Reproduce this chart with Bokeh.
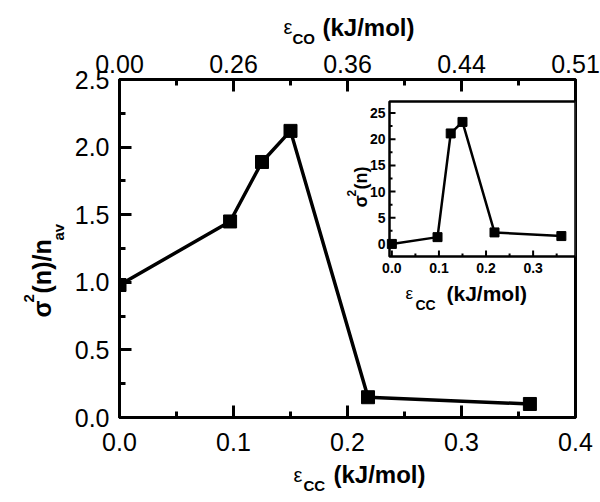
from bokeh.plotting import figure
from bokeh.models import Range1d, LinearAxis, FixedTicker, Label, Title
from bokeh.core.properties import value
from bokeh.embed import file_html
from bokeh.resources import INLINE

# ---------------- data ----------------
e_cc = [0.0, 0.097, 0.125, 0.150, 0.218, 0.360]          # eps_CC (kJ/mol)
ratio = [0.98, 1.45, 1.89, 2.12, 0.15, 0.10]             # sigma^2(n)/n_av
sigma2 = [0.0, 1.3, 21.1, 23.3, 2.2, 1.5]                # sigma^2(n) (inset)

x_ticks = [0.0, 0.1, 0.2, 0.3, 0.4]
x_minor = [0.05, 0.15, 0.25, 0.35]
x_tick_labels = ["0.0", "0.1", "0.2", "0.3", "0.4"]
top_tick_labels = ["0.00", "0.26", "0.36", "0.44", "0.51"]
y_ticks = [0.0, 0.5, 1.0, 1.5, 2.0, 2.5]
y_minor = [0.25, 0.75, 1.25, 1.75, 2.25]
y_tick_labels = ["0.0", "0.5", "1.0", "1.5", "2.0", "2.5"]

in_x_ticks = [0.0, 0.1, 0.2, 0.3]
in_x_minor = [0.05, 0.15, 0.25, 0.35]
in_x_labels = ["0.0", "0.1", "0.2", "0.3"]
in_y_ticks = [0, 5, 10, 15, 20, 25]
in_y_minor = [2.5, 7.5, 12.5, 17.5, 22.5]
in_y_labels = ["0", "5", "10", "15", "20", "25"]

FONT = "Liberation Sans"

# ---------------- layout (pixels) ----------------
W, H = 600, 500
BL, BR, BT, BB = 119, 25, 79, 83                 # main frame borders
FL, FR, FT, FB = BL, W - BR, BT, H - BB          # main frame box
IL, IR, IT, IB = 389, FR, 101, 256               # inset frame box
IX0, IX1 = -0.005, 0.39                          # inset data ranges
IY0, IY1 = -2.4, 27.2
sx = (IX1 - IX0) / (IR - IL)
sy = (IY1 - IY0) / (IB - IT)
ext_x = Range1d(IX0 - (IL - FL) * sx, IX1 + (FR - IR) * sx)
ext_y = Range1d(IY0 - (FB - IB) * sy, IY1 + (IT - FT) * sy)

TICK_FS = 25
K_ASC, K_DESC = 0.79, 0.19                       # text-box metrics (em)


def style_axis(ax, size, major, minor, lw, standoff):
    ax.axis_line_width = lw
    ax.axis_line_color = "black"
    ax.major_tick_in = major
    ax.major_tick_out = 0
    ax.minor_tick_in = minor
    ax.minor_tick_out = 0
    ax.major_tick_line_width = lw
    ax.minor_tick_line_width = lw
    ax.major_tick_line_color = "black"
    ax.minor_tick_line_color = "black"
    ax.major_label_text_font = FONT
    ax.major_label_text_font_size = f"{size}px"
    ax.major_label_text_color = "black"
    ax.major_label_standoff = standoff
    ax.axis_label = None


def side_titles(fig, side, start, pieces):
    """pieces: (text, font px, bold, D = distance frame -> outer edge of text, offset).
    Every Title row collapses to zero size, so each piece sits at start - standoff/2."""
    va = {"below": "bottom", "above": "top", "left": "top"}[side]
    for text, fs, bold, D, off in pieces:
        s = round(2 * (start - D))
        fig.add_layout(Title(text=text, align="left", offset=off, standoff=s,
                             vertical_align=va, text_font=FONT,
                             text_font_size=f"{fs}px",
                             text_font_style="bold" if bold else "normal",
                             text_color="black"), side)


def ilab(x, y, text, size, bold=True, angle=0):
    """text piece inside the frame (inset titles); px from frame bottom-left"""
    p.add_layout(Label(x=x, y=y, x_units="screen", y_units="screen", text=text,
                       text_font=FONT, text_font_size=f"{size}px",
                       text_font_style="bold" if bold else "normal",
                       text_color="black", text_baseline="alphabetic",
                       text_align="left", angle=angle, angle_units="deg"))


# ---------------- main figure ----------------
p = figure(width=W, height=H, x_range=Range1d(0, 0.4), y_range=Range1d(0, 2.5),
           output_backend="svg", toolbar_location=None, title_location=None,
           min_border_left=BL, min_border_right=BR, min_border_top=BT, min_border_bottom=BB)
p.extra_x_ranges = {"ix": ext_x}
p.extra_y_ranges = {"iy": ext_y}
p.xgrid.visible = False
p.ygrid.visible = False
p.outline_line_color = "black"
p.outline_line_width = 3
p.background_fill_color = "white"
p.border_fill_color = "white"

XSTAND, TSTAND, YSTAND = 15, 7, 10
p.xaxis.ticker = FixedTicker(ticks=x_ticks, minor_ticks=x_minor)
p.xaxis.major_label_overrides = dict(zip(x_ticks, x_tick_labels))
style_axis(p.xaxis[0], TICK_FS, 12, 6, 3, XSTAND)

p.yaxis.ticker = FixedTicker(ticks=y_ticks, minor_ticks=y_minor)
p.yaxis.major_label_overrides = dict(zip(y_ticks, y_tick_labels))
style_axis(p.yaxis[0], TICK_FS, 12, 6, 3, YSTAND)

top = LinearAxis(ticker=FixedTicker(ticks=x_ticks, minor_ticks=x_minor),
                 major_label_overrides=dict(zip(x_ticks, top_tick_labels)))
style_axis(top, TICK_FS, 12, 6, 3, TSTAND)
p.add_layout(top, "above")

p.line(e_cc, ratio, line_width=3.5, color="black")
p.scatter(e_cc, ratio, marker="square", size=13, color="black")

# ---------------- inset (own scales via extra ranges) ----------------
IR_ = dict(x_range_name="ix", y_range_name="iy")
p.quad(left=[IX0], right=[IX1], bottom=[IY0], top=[IY1], fill_color="white",
       line_color="black", line_width=2.5, **IR_)
p.segment(x0=in_x_ticks, x1=in_x_ticks, y0=[IY0] * len(in_x_ticks),
          y1=[IY0 + 6 * sy] * len(in_x_ticks), line_width=2, color="black", **IR_)
p.segment(x0=in_x_minor, x1=in_x_minor, y0=[IY0] * len(in_x_minor),
          y1=[IY0 + 3 * sy] * len(in_x_minor), line_width=2, color="black", **IR_)
p.segment(x0=[IX0] * len(in_y_ticks), x1=[IX0 + 6 * sx] * len(in_y_ticks),
          y0=in_y_ticks, y1=in_y_ticks, line_width=2, color="black", **IR_)
p.segment(x0=[IX0] * len(in_y_minor), x1=[IX0 + 3 * sx] * len(in_y_minor),
          y0=in_y_minor, y1=in_y_minor, line_width=2, color="black", **IR_)
p.text(x=in_x_ticks, y=[IY0] * len(in_x_ticks), text=in_x_labels, y_offset=6,
       text_font=value(FONT), text_font_size=value("14px"), text_font_style="bold",
       text_align="center", text_baseline="top", text_color="black", **IR_)
p.text(x=[IX0] * len(in_y_ticks), y=in_y_ticks, text=in_y_labels, x_offset=-4,
       text_font=value(FONT), text_font_size=value("14px"), text_font_style="bold",
       text_align="right", text_baseline="middle", text_color="black", **IR_)
p.line(e_cc, sigma2, line_width=2.5, color="black", **IR_)
p.scatter(e_cc, sigma2, marker="square", size=9, color="black", **IR_)

ilab(286, 124, "\u03b5", 17, bold=False)
ilab(296, 113, "CC", 14)
ilab(327, 124, "(kJ/mol)", 21)
ilab(241, 210, "\u03c3", 18, angle=90)
ilab(232, 221, "2", 12, angle=90)
ilab(241, 228, "(n)", 18, angle=90)

# ---------------- main axis titles (Title rows in the side panels) ----------------
# extents of the tick-label panels (standoff + label box), corrected after inspection
ext_below = XSTAND + 0.98 * TICK_FS - 6
ext_above = TSTAND + 0.98 * TICK_FS - 4
ext_left = YSTAND + 1.39 * TICK_FS - 3
# bottom: eps_CC (kJ/mol)   D = frame bottom -> text bottom (baseline + descent)
side_titles(p, "below", ext_below, [
    ("(kJ/mol)", 24, True, 480 + K_DESC * 24 - FB, 333 - FL),
    ("CC", 15, True, 488 + K_DESC * 15 - FB, 303 - FL),
    ("\u03b5", 20, False, 479 + K_DESC * 20 - FB, 293 - FL),
])
# top: eps_CO (kJ/mol)      D = frame top -> text top (baseline - ascent)
side_titles(p, "above", ext_above, [
    ("CO", 15, True, FT - (42 - K_ASC * 15), 292 - FL),
    ("(kJ/mol)", 24, True, FT - (33 - K_ASC * 24), 322 - FL),
    ("\u03b5", 20, False, FT - (32 - K_ASC * 20), 283 - FL),
])
# left: sigma^2(n)/n_av     D = frame left -> text top side (baseline x - ascent)
side_titles(p, "left", ext_left, [
    ("av", 15, True, FL - (67 - K_ASC * 15), FB - 317 + 77),
    ("\u03c3 (n)/n", 25, True, FL - (53 - K_ASC * 25), FB - 317),
    ("2", 15, True, FL - (41 - K_ASC * 15), FB - 317 + 15),
])

open("out.html", "w").write(file_html(p, INLINE))
